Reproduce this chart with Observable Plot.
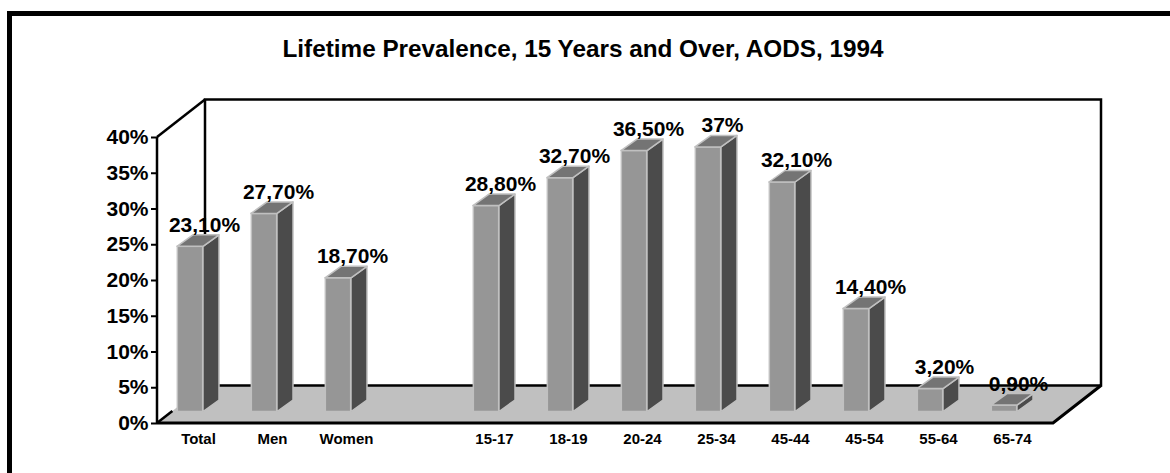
<!DOCTYPE html>
<html><head><meta charset="utf-8">
<script src="https://cdn.jsdelivr.net/npm/d3@7"></script>
<script src="https://cdn.jsdelivr.net/npm/@observablehq/plot@0.6"></script>
<style>
html,body{margin:0;padding:0;background:#fff;}
#wrap{position:relative;width:1170px;height:473px;overflow:hidden;}
#border{position:absolute;left:7px;top:11px;width:1300px;height:600px;border-left:5px solid #000;border-top:5px solid #000;box-sizing:border-box;}
#title{position:absolute;left:0;top:37px;width:1166px;text-align:center;font:bold 24.3px/24px 'Liberation Sans', Arial, sans-serif;color:#000;white-space:nowrap;}
#chart{position:absolute;left:0;top:0;}
</style></head><body>
<div id="wrap"><div id="border"></div><div id="chart"></div><div id="title">Lifetime Prevalence, 15 Years and Over, AODS, 1994</div></div>
<script>
// ---- data ----
const tickLabels = ["Total","Men","Women","","15-17","18-19","20-24","25-34","45-44","45-54","55-64","65-74"];
const categories = ["Total","Men","Women","15-17","18-19","20-24","25-34","45-44","45-54","55-64","65-74"];
const values = [23.1, 27.7, 18.7, 28.8, 32.7, 36.5, 37, 32.1, 14.4, 3.2, 0.9];
const valueLabels = ["23,10%","27,70%","18,70%","28,80%","32,70%","36,50%","37%","32,10%","14,40%","3,20%","0,90%"];
const yTicks = [0, 5, 10, 15, 20, 25, 30, 35, 40];
const data = categories.map((c, i) => ({cat: c, value: values[i], label: valueLabels[i]}));

// ---- layout / style constants ----
const W = 1170, H = 473, mL = 157, mR = 117, mT = 137, mB = 50;
const bw = (W - mL - mR) / tickLabels.length;
const WALL_DX = 48, WALL_DY = -37.5;   // depth of the 3D room
const BAR_DX = 16, BAR_DY = -11.5;     // depth of each column
const BASE_DY = -11.5;                 // columns stand a little back on the floor
const FRONT_L = -21, FRONT_R = 5;      // front face relative to band centre
const FRONT = "#969696", SIDE = "#4b4b4b", TOP = "#747474", EDGE = "#c0c0c0", FLOOR = "#c0c0c0";

const P = pts => pts.map(p => p.join(",")).join(" ");

function room(index, {x, y}) {
  const [x0, x1] = x.range();
  const yb = y(0), yt = y(40);
  const g = d3.create("svg:g");
  g.append("polygon").attr("points", P([[x0, yb], [x1, yb], [x1 + WALL_DX, yb + WALL_DY], [x0 + WALL_DX, yb + WALL_DY]]))
    .attr("fill", FLOOR);
  const line = (pts, w) => g.append("polyline").attr("points", P(pts)).attr("fill", "none")
    .attr("stroke", "#000").attr("stroke-width", w).attr("stroke-linejoin", "miter");
  // back wall + floor back edge
  line([[x0 + WALL_DX, yb + WALL_DY], [x0 + WALL_DX, yt + WALL_DY], [x1 + WALL_DX, yt + WALL_DY], [x1 + WALL_DX, yb + WALL_DY], [x0 + WALL_DX, yb + WALL_DY]], 2.5);
  // left wall top edge
  line([[x0, yt], [x0 + WALL_DX, yt + WALL_DY]], 2.5);
  // floor front + right edge
  line([[x0, yb], [x1, yb], [x1 + WALL_DX, yb + WALL_DY]], 3);
  // short visible piece of left floor edge
  line([[x0, yb], [x0 + 0.32 * WALL_DX, yb + 0.32 * WALL_DY]], 2.5);
  // value axis line
  line([[x0, yt], [x0, yb]], 2.5);
  return g.node();
}

function columns3d(index, {x, y}) {
  const g = d3.create("svg:g").attr("stroke", EDGE).attr("stroke-width", 1.5).attr("stroke-linejoin", "round");
  const b = x.bandwidth();
  for (const d of data) {
    const c = x(d.cat) + b / 2;
    const l = c + FRONT_L, r = c + FRONT_R;
    const yb = y(0) + BASE_DY, yt = y(d.value) + BASE_DY;
    g.append("polygon").attr("points", P([[r, yt], [r + BAR_DX, yt + BAR_DY], [r + BAR_DX, yb + BAR_DY], [r, yb]])).attr("fill", SIDE);
    g.append("polygon").attr("points", P([[l, yt], [r, yt], [r + BAR_DX, yt + BAR_DY], [l + BAR_DX, yt + BAR_DY]])).attr("fill", TOP);
  }
  return g.node();
}

const chart = Plot.plot({
  width: W, height: H,
  marginLeft: mL, marginRight: mR, marginTop: mT, marginBottom: mB,
  style: {color: "#000", background: "transparent", fontFamily: "'Liberation Sans', Arial, sans-serif", overflow: "visible"},
  x: {type: "band", domain: tickLabels, padding: 0},
  y: {domain: [0, 40]},
  marks: [
    room,
    Plot.barY(data, {x: "cat", y: "value", fill: FRONT, stroke: EDGE, strokeWidth: 1.5,
      insetLeft: bw / 2 + FRONT_L, insetRight: bw / 2 - FRONT_R, dy: BASE_DY}),
    columns3d,
    Plot.text(data, {x: "cat", y: "value", text: "label", dx: 6, dy: BASE_DY - 15, lineAnchor: "bottom",
      fontSize: 21, fontWeight: "bold", fill: "#000"}),
    Plot.axisY({ticks: yTicks, tickSize: 6, tickPadding: 3, tickFormat: d => d + "%", fontSize: 21, fontWeight: "bold", strokeWidth: 2, label: null}),
    Plot.axisX({tickSize: 0, tickPadding: 10, fontSize: 15, fontWeight: "bold", label: null, tickFormat: d => d})
  ]
});
document.getElementById("chart").appendChild(chart);
</script>
</body></html>
